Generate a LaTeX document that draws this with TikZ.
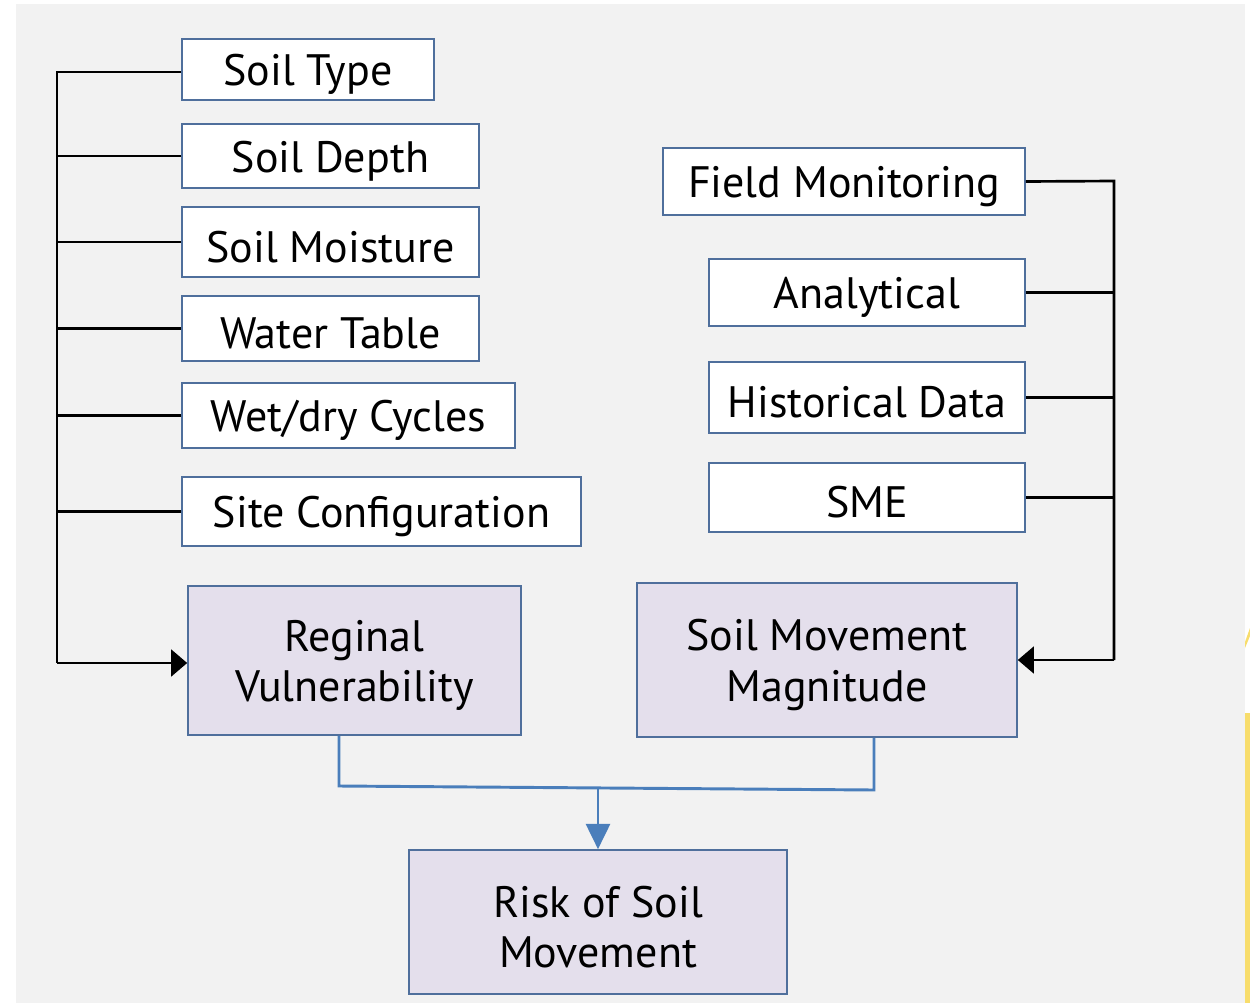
\documentclass[tikz,border=0pt]{standalone}
\usepackage{fontspec}
\setmainfont{PT Sans}
\usetikzlibrary{fit,arrows.meta}
\definecolor{panel}{HTML}{F2F2F2}
\definecolor{edgeblue}{HTML}{4F6F9C}
\definecolor{lav}{HTML}{E4DFEC}
\definecolor{flow}{HTML}{4A7EBB}
\definecolor{note}{HTML}{F8DD6C}
\tikzset{
  boxfont/.style={font=\fontsize{33}{38}\selectfont, align=center, text=black, yshift=-3.8pt},
  factor/.style={draw=edgeblue, line width=1.2pt, fill=white, inner sep=0pt},
  result/.style={draw=edgeblue, line width=1.2pt, fill=lav, inner sep=0pt},
  feed/.style={draw=black, line width=2pt},
  merge/.style={draw=flow, line width=2.2pt},
  blacktip/.style={-{Triangle[length=12pt,width=20pt]}},
  bluetip/.style={-{Triangle[length=19pt,width=18pt]}},
}
\begin{document}
\begin{tikzpicture}[x=0.75pt,y=-0.75pt]
\useasboundingbox (0,0) rectangle (1250,1003);
\fill[white] (0,0) rectangle (1250,1003);
\fill[panel] (16,4) rectangle (1245,1003);
\fill[note] (1245,713) rectangle (1250,1003);
\fill[note] (1245,642) -- (1250,628) -- (1250,636) -- (1245,648) -- cycle;

% left factors
\node[factor, fit={(182,39)(434,100)}] (type) {};
\node[boxfont] at (type.center) {Soil Type};
\node[factor, fit={(182,124)(479,188)}] (depth) {};
\node[boxfont] at (depth.center) {Soil Depth};
\node[factor, fit={(182,207)(479,277)}] (moist) {};
\node[boxfont] at (moist.center) {Soil Moisture};
\node[factor, fit={(182,296)(479,361)}] (water) {};
\node[boxfont] at (water.center) {Water Table};
\node[factor, fit={(182,383)(515,448)}] (wetdry) {};
\node[boxfont] at (wetdry.center) {Wet/dry Cycles};
\node[factor, fit={(182,477)(581,546)}] (site) {};
\node[boxfont] at (site.center) {Site Configuration};

% right factors
\node[factor, fit={(663,148)(1025,215)}] (field) {};
\node[boxfont] at (field.center) {Field Monitoring};
\node[factor, fit={(709,259)(1025,326)}] (anal) {};
\node[boxfont] at (anal.center) {Analytical};
\node[factor, fit={(709,362)(1025,433)}] (hist) {};
\node[boxfont] at (hist.center) {Historical Data};
\node[factor, fit={(709,463)(1025,532)}] (sme) {};
\node[boxfont] at (sme.center) {SME};

% results
\node[result, fit={(188,586)(521,735)}] (vuln) {};
\node[boxfont] at (vuln.center) {Reginal\\Vulnerability};
\node[result, fit={(637,583)(1017,737)}] (mag) {};
\node[boxfont] at (mag.center) {Soil Movement\\Magnitude};
\node[result, fit={(409,850)(787,994)}] (risk) {};
\node[boxfont] at (risk.center) {Risk of Soil\\Movement};

% left bus
\coordinate (lt) at (57,72);
\coordinate (lb) at (57,663);
\draw[feed] (type.west |- 0,72) -- (lt) -- (lb);
\draw[feed, blacktip] (lb) -- (vuln.west |- lb);
\foreach \n in {depth,moist,water,wetdry,site}
  \draw[feed] (\n.west) -- (lt |- \n.west);

% right bus
\coordinate (rt) at (1114,181);
\coordinate (rb) at (1114,660);
\draw[feed] (field.east) -- (rt) -- (rb);
\draw[feed, blacktip] (rb) -- (mag.east |- rb);
\foreach \n in {anal,hist,sme}
  \draw[feed] (\n.east) -- (rt |- \n.east);

% merge into risk
\coordinate (ml) at (339,786);
\coordinate (mr) at (874,790);
\coordinate (mm) at (598,788);
\draw[merge] (vuln.south -| ml) -- (ml) -- (mr) -- (mag.south -| mr);
\draw[merge, bluetip] (mm) -- (risk.north);
\end{tikzpicture}
\end{document}
